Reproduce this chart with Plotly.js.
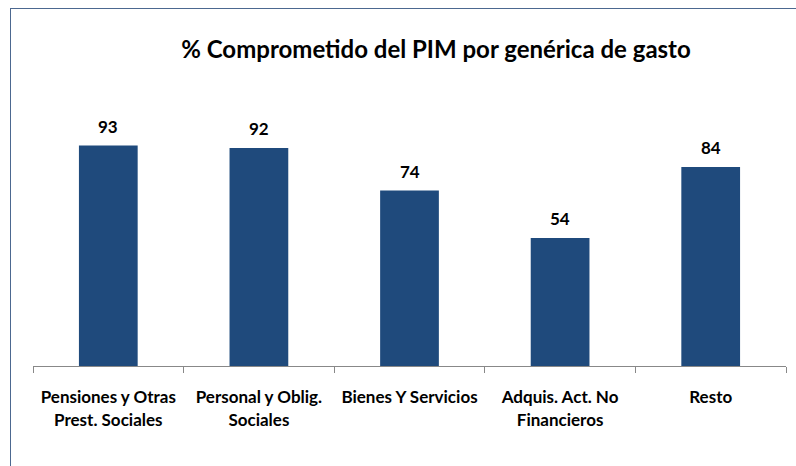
<!DOCTYPE html>
<html><head><meta charset="utf-8">
<script src="https://cdn.plot.ly/plotly-3.0.1.min.js"></script>
<style>
html,body{margin:0;padding:0;background:#fff;overflow:hidden}
#wrap{position:relative;width:796px;height:466px}
#chart{width:796px;height:466px}
#frame{position:absolute;left:10px;top:8px;width:900px;height:600px;border:1.5px solid #4C6890;pointer-events:none}
</style></head>
<body><div id="wrap"><div id="chart"></div><div id="frame"></div></div>
<script>
const categories = ["Pensiones y Otras<br>Prest. Sociales","Personal y Oblig.<br>Sociales","Bienes Y Servicios","Adquis. Act. No<br>Financieros","Resto"];
const values = [93, 92, 74, 54, 84];
const titleText = "% Comprometido del PIM por genérica de gasto";
const F = "Lato, 'Open Sans', sans-serif";

const trace = {
  type: "bar", x: categories, y: values,
  marker: {color: "#1F4A7C", line: {width: 0}},
  width: 0.39, hoverinfo: "none"
};
const annotations = categories.map((c, i) => ({
  x: c, y: values[i], xref: "x", yref: "y", text: "<b>" + values[i] + "</b>",
  showarrow: false, yanchor: "bottom", yshift: 7,
  font: {family: F, size: 17, color: "#000"}
}));
const layout = {
  width: 796, height: 466,
  margin: {l: 33, r: 10, t: 129, b: 100, pad: 0},
  paper_bgcolor: "#fff", plot_bgcolor: "#fff",
  showlegend: false,
  title: {text: "<b>" + titleText + "</b>", x: 436/796, xref: "container", xanchor: "center",
          y: 1 - 50/466, yref: "container", yanchor: "middle",
          font: {family: F, size: 24, color: "#000"}},
  xaxis: {type: "category", showline: true, linecolor: "#888", linewidth: 1,
          ticks: "outside", tickson: "boundaries", ticklen: 6, tickcolor: "#888",
          ticklabelstandoff: 16,
          tickfont: {family: F, size: 17, color: "#000"}, showgrid: false, zeroline: false,
          fixedrange: true},
  yaxis: {range: [0, 100], visible: false, showgrid: false, zeroline: false, fixedrange: true},
  annotations: annotations
};
const boldCats = categories.map(c => "<b>" + c + "</b>");
layout.xaxis.tickvals = categories;
layout.xaxis.ticktext = boldCats;
Plotly.newPlot("chart", [trace], layout, {displayModeBar: false, staticPlot: true});
</script></body></html>
